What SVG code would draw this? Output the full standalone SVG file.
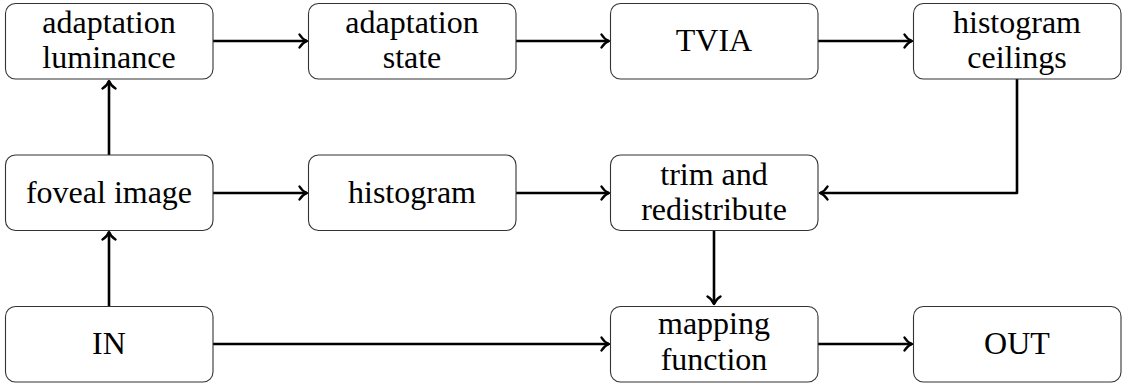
<svg xmlns="http://www.w3.org/2000/svg" width="1128" height="385" viewBox="0 0 1128 385">
<style>
.box{fill:#fff;stroke:#333;stroke-width:1.1}
.c{fill:none;stroke:#000;stroke-width:2.6;stroke-linejoin:round}
</style>
<defs>
<marker id="ah" markerUnits="userSpaceOnUse" viewBox="-10 -8 12 16" refX="0" refY="0" markerWidth="12" markerHeight="16" orient="auto">
<path d="M-7.5,-6.5 C-5.5,-3 -2.5,-1 0,0 C-2.5,1 -5.5,3 -7.5,6.5" fill="none" stroke="#000" stroke-width="2.4" stroke-linecap="round" stroke-linejoin="round"/>
</marker>
</defs>
<g id="connectors">
<path class="c" d="M213,41 H307" marker-end="url(#ah)"/>
<path class="c" d="M516,41 H609" marker-end="url(#ah)"/>
<path class="c" d="M818,41 H912" marker-end="url(#ah)"/>
<path class="c" d="M1017,79 V193 H820" marker-end="url(#ah)"/>
<path class="c" d="M109,155 V81" marker-end="url(#ah)"/>
<path class="c" d="M213,193 H307" marker-end="url(#ah)"/>
<path class="c" d="M516,193 H609" marker-end="url(#ah)"/>
<path class="c" d="M109,306 V232" marker-end="url(#ah)"/>
<path class="c" d="M213,344 H609" marker-end="url(#ah)"/>
<path class="c" d="M714,230 V304" marker-end="url(#ah)"/>
<path class="c" d="M818,344 H912" marker-end="url(#ah)"/>
</g>
<g id="adaptation-luminance">
<rect class="box" x="5.5" y="3.5" width="207.5" height="75.5" rx="10"/>
<text x="109" y="33" text-anchor="middle" style="font-family:'Liberation Serif','DejaVu Serif',serif;font-size:32px">adaptation</text>
<text x="109" y="68" text-anchor="middle" style="font-family:'Liberation Serif','DejaVu Serif',serif;font-size:32px">luminance</text>
</g>
<g id="adaptation-state">
<rect class="box" x="308.5" y="3.5" width="207.5" height="75.5" rx="10"/>
<text x="412" y="33" text-anchor="middle" style="font-family:'Liberation Serif','DejaVu Serif',serif;font-size:32px">adaptation</text>
<text x="412" y="68" text-anchor="middle" style="font-family:'Liberation Serif','DejaVu Serif',serif;font-size:32px">state</text>
</g>
<g id="tvia">
<rect class="box" x="610.5" y="3.5" width="207.5" height="75.5" rx="10"/>
<text x="714" y="51" text-anchor="middle" style="font-family:'Liberation Serif','DejaVu Serif',serif;font-size:32px">TVIA</text>
</g>
<g id="histogram-ceilings">
<rect class="box" x="913.5" y="3.5" width="207.5" height="75.5" rx="10"/>
<text x="1017" y="33" text-anchor="middle" style="font-family:'Liberation Serif','DejaVu Serif',serif;font-size:32px">histogram</text>
<text x="1017" y="68" text-anchor="middle" style="font-family:'Liberation Serif','DejaVu Serif',serif;font-size:32px">ceilings</text>
</g>
<g id="foveal-image">
<rect class="box" x="5.5" y="155" width="207.5" height="75.5" rx="10"/>
<text x="109" y="203" text-anchor="middle" style="font-family:'Liberation Serif','DejaVu Serif',serif;font-size:32px">foveal image</text>
</g>
<g id="histogram">
<rect class="box" x="308.5" y="155" width="207.5" height="75.5" rx="10"/>
<text x="412" y="203" text-anchor="middle" style="font-family:'Liberation Serif','DejaVu Serif',serif;font-size:32px">histogram</text>
</g>
<g id="trim-and-redistribute">
<rect class="box" x="610.5" y="155" width="207.5" height="75.5" rx="10"/>
<text x="714" y="185" text-anchor="middle" style="font-family:'Liberation Serif','DejaVu Serif',serif;font-size:32px">trim and</text>
<text x="714" y="220" text-anchor="middle" style="font-family:'Liberation Serif','DejaVu Serif',serif;font-size:32px">redistribute</text>
</g>
<g id="in">
<rect class="box" x="5.5" y="306.5" width="207.5" height="75.5" rx="10"/>
<text x="109" y="354" text-anchor="middle" style="font-family:'Liberation Serif','DejaVu Serif',serif;font-size:32px">IN</text>
</g>
<g id="mapping-function">
<rect class="box" x="610.5" y="306.5" width="207.5" height="75.5" rx="10"/>
<text x="714" y="334" text-anchor="middle" style="font-family:'Liberation Serif','DejaVu Serif',serif;font-size:32px">mapping</text>
<text x="714" y="370" text-anchor="middle" style="font-family:'Liberation Serif','DejaVu Serif',serif;font-size:32px">function</text>
</g>
<g id="out">
<rect class="box" x="913.5" y="306.5" width="207.5" height="75.5" rx="10"/>
<text x="1017" y="354" text-anchor="middle" style="font-family:'Liberation Serif','DejaVu Serif',serif;font-size:32px">OUT</text>
</g>
</svg>
